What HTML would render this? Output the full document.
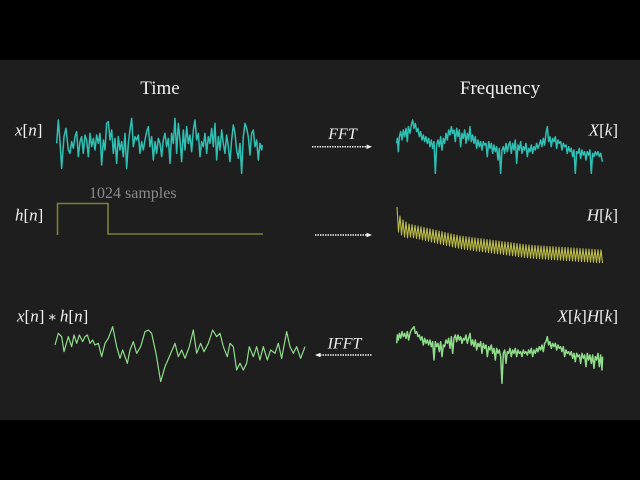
<!DOCTYPE html>
<html>
<head>
<meta charset="utf-8">
<style>
html,body{margin:0;padding:0;background:#000;}
svg{display:block;}
text{font-family:"Liberation Serif","DejaVu Serif",serif;fill:#f0f0f0;}
</style>
</head>
<body>
<svg width="640" height="480" viewBox="0 0 640 480" xmlns="http://www.w3.org/2000/svg">
<rect x="0" y="0" width="640" height="480" fill="#000"/>
<rect x="0" y="60" width="640" height="360" fill="#1e1e1e"/>

<!-- Titles -->
<text x="160" y="94" text-anchor="middle" font-size="19">Time</text>
<text x="500" y="94" text-anchor="middle" font-size="19">Frequency</text>

<!-- Left labels -->
<text x="15" y="135.5" font-size="17"><tspan font-style="italic">x</tspan>[<tspan font-style="italic">n</tspan>]</text>
<text x="15" y="220.5" font-size="17"><tspan font-style="italic">h</tspan>[<tspan font-style="italic">n</tspan>]</text>
<text x="17" y="321.5" font-size="17"><tspan font-style="italic">x</tspan>[<tspan font-style="italic">n</tspan>]<tspan font-family="DejaVu Serif" font-size="14" dx="3">∗</tspan><tspan dx="3" font-style="italic">h</tspan>[<tspan font-style="italic">n</tspan>]</text>

<!-- Right labels -->
<text x="618" y="135.5" font-size="17" text-anchor="end"><tspan font-style="italic">X</tspan>[<tspan font-style="italic">k</tspan>]</text>
<text x="618" y="220.5" font-size="17" text-anchor="end"><tspan font-style="italic">H</tspan>[<tspan font-style="italic">k</tspan>]</text>
<text x="618" y="321.5" font-size="17" text-anchor="end"><tspan font-style="italic">X</tspan>[<tspan font-style="italic">k</tspan>]<tspan font-style="italic">H</tspan>[<tspan font-style="italic">k</tspan>]</text>

<!-- 1024 samples -->
<text x="89" y="198" font-size="16" style="fill:#8a8a8a">1024 samples</text>

<!-- Arrows -->
<text x="342.5" y="139" font-size="16" text-anchor="middle" font-style="italic">FFT</text>
<line x1="312" y1="146.8" x2="367" y2="146.8" stroke="#f0f0f0" stroke-width="1.5" stroke-dasharray="1.5 1"/>
<polygon points="372,146.8 366.5,144.5 366.5,149.1" fill="#f0f0f0"/>

<line x1="315" y1="235" x2="367" y2="235" stroke="#f0f0f0" stroke-width="1.5" stroke-dasharray="1.5 1"/>
<polygon points="372,235 366.5,232.7 366.5,237.3" fill="#f0f0f0"/>

<text x="344.5" y="348.5" font-size="16" text-anchor="middle" font-style="italic">IFFT</text>
<line x1="320" y1="355" x2="372" y2="355" stroke="#f0f0f0" stroke-width="1.5" stroke-dasharray="1.5 1"/>
<polygon points="315,355 320.5,352.7 320.5,357.3" fill="#f0f0f0"/>

<!-- h[n] box -->
<polyline points="57.5,235 57.5,203.5 108,203.5 108,234 263,234" fill="none" stroke="#7f7f36" stroke-width="1.6"/>

<!-- x[n] -->
<g transform="translate(50,110) scale(0.3333)">
<polyline fill="none" stroke="#2fc0b4" stroke-width="4.5" stroke-linejoin="round" points="20,100 25,30 30,95 35,175 42,80 48,55 55,120 60,130 65,95 70,115 75,80 80,65 85,140 90,95 95,80 100,130 105,75 110,90 115,140 120,70 125,110 130,85 135,120 140,75 145,100 150,70 155,165 160,90 165,120 170,40 175,35 180,90 185,60 190,130 195,85 200,160 205,80 210,120 215,95 220,140 225,70 230,175 235,100 240,60 245,25 250,110 255,80 260,90 265,75 270,130 275,95 280,120 285,90 290,65 295,50 300,110 305,80 310,150 315,95 320,130 325,85 330,100 335,140 340,90 345,70 350,110 355,85 360,160 365,70 370,100 375,25 380,130 385,40 390,90 395,155 400,60 405,120 410,50 415,100 420,75 425,125 430,60 435,30 440,90 445,70 450,140 455,95 460,110 465,70 470,130 475,80 480,100 485,55 490,110 495,40 500,150 505,80 510,120 515,60 520,100 525,130 530,75 535,110 540,155 545,90 550,45 555,70 560,120 565,145 570,100 575,190 580,80 585,40 590,55 595,80 600,135 605,70 610,60 615,110 620,90 625,150 630,100 635,120 637,105"/>
</g>

<!-- X[k] -->
<g transform="translate(390,110) scale(0.3333)">
<polyline fill="none" stroke="#2fc0b4" stroke-width="4.5" stroke-linejoin="round" points="20,100 22,85 25,125 28,80 32,65 36,90 40,60 44,80 48,55 52,95 55,50 60,70 64,45 68,30 72,55 76,40 80,65 84,55 88,80 92,65 96,90 100,75 104,95 108,80 112,100 116,85 120,110 124,90 128,115 132,95 136,190 140,105 144,90 148,110 152,80 156,120 160,85 164,100 168,70 172,90 176,60 180,75 184,50 188,70 192,60 196,95 200,55 204,80 208,60 212,110 216,70 220,85 224,60 228,100 232,70 236,90 240,50 244,95 248,75 252,100 256,80 260,115 264,90 268,110 272,95 276,120 280,95 284,105 288,100 292,140 296,95 300,115 304,100 308,130 312,105 316,125 320,110 324,150 328,115 332,190 336,120 340,110 344,130 348,100 352,125 356,105 360,95 364,130 368,100 372,120 376,90 380,160 384,105 388,120 392,95 396,130 400,110 404,120 408,100 412,140 416,115 420,125 424,105 428,130 432,110 436,120 440,100 444,115 448,105 452,90 456,110 460,85 464,105 468,70 472,50 476,95 480,80 484,110 488,85 492,95 496,80 500,115 504,90 508,100 512,95 516,120 520,100 524,110 528,105 532,130 536,110 540,125 544,115 548,140 552,120 556,190 560,125 564,130 568,115 572,145 576,120 580,135 584,125 588,150 592,125 596,135 600,120 604,190 608,130 612,140 616,125 620,135 624,125 628,140 632,130 636,150 638,155"/>
</g>

<!-- H[k] -->
<path fill="none" stroke="#bcbc46" stroke-width="1.1" stroke-linejoin="round" d="M397,207 L398.5,232 L400,216 L401.5,235 L403,220 L404.5,237 L406,222 L407.5,238 L409,224
l1.5,13l1.5,-12.3l1.5,13l1.5,-12.3l1.5,13l1.5,-12.3l1.5,13l1.5,-12.3l1.5,13l1.5,-12.3
l1.5,13l1.5,-12.3l1.5,13l1.5,-12.3l1.5,13l1.5,-12.3l1.5,13l1.5,-12.3l1.5,13l1.5,-12.3
l1.5,13l1.5,-12.3l1.5,13l1.5,-12.3l1.5,13l1.5,-12.3l1.5,13l1.5,-12.3l1.5,13l1.5,-12.3
l1.5,13l1.5,-12.3l1.5,13l1.5,-12.3
l1.5,13l1.5,-12.6l1.5,13l1.5,-12.6l1.5,13l1.5,-12.6l1.5,13l1.5,-12.6l1.5,13l1.5,-12.6
l1.5,13l1.5,-12.6l1.5,13l1.5,-12.6l1.5,13l1.5,-12.6l1.5,13l1.5,-12.6l1.5,13l1.5,-12.6
l1.5,13l1.5,-12.6l1.5,13l1.5,-12.6l1.5,13l1.5,-12.6l1.5,13l1.5,-12.6l1.5,13l1.5,-12.6
l1.5,13l1.5,-12.6l1.5,13l1.5,-12.6l1.5,13l1.5,-12.6l1.5,13l1.5,-12.6l1.5,13l1.5,-12.6
l1.5,13l1.5,-12.6l1.5,13l1.5,-12.6l1.5,13l1.5,-12.6
l1.5,13l1.5,-12.8l1.5,13l1.5,-12.8l1.5,13l1.5,-12.8l1.5,13l1.5,-12.8l1.5,13l1.5,-12.8
l1.5,13l1.5,-12.8l1.5,13l1.5,-12.8l1.5,13l1.5,-12.8l1.5,13l1.5,-12.8l1.5,13l1.5,-12.8
l1.5,13l1.5,-12.8l1.5,13l1.5,-12.8l1.5,13l1.5,-12.8l1.5,13l1.5,-12.8l1.5,13l1.5,-12.8
l1.5,13l1.5,-12.8l1.5,13l1.5,-12.8l1.5,13l1.5,-12.8l1.5,13l1.5,-12.8l1.5,13l1.5,-12.8
l1.5,13l1.5,-12.8l1.5,13l1.5,-12.8l1.5,13l1.5,-12.8l1.5,13l1.5,-12.8
l1.5,13"/>

<!-- x[n]*h[n] -->
<g transform="translate(50,320) scale(0.3333)">
<polyline fill="none" stroke="#8fdc8a" stroke-width="3.6" stroke-linejoin="round" points="15,75 25,40 35,50 42,95 55,50 65,80 72,45 80,70 88,45 98,65 105,50 112,45 120,70 128,60 135,75 145,70 155,110 165,70 175,55 188,20 200,80 210,115 218,90 225,110 232,130 240,90 250,65 260,100 272,80 285,35 295,30 305,40 318,100 332,185 345,140 358,110 375,70 385,110 395,90 405,115 418,80 430,30 440,100 452,70 462,95 475,70 488,30 500,50 510,40 520,80 532,110 540,70 550,80 560,150 570,130 580,150 590,130 598,80 610,110 620,80 630,120 640,80 652,120 662,90 675,100 685,70 695,115 710,35 720,80 730,100 740,80 752,115 765,80"/>
</g>

<!-- X[k]H[k] -->
<g transform="translate(390,320) scale(0.3333)">
<polyline fill="none" stroke="#8fdc8a" stroke-width="4.5" stroke-linejoin="round" points="20,70 22,45 25,60 28,40 32,55 36,35 40,50 44,40 48,55 52,35 56,60 60,40 64,30 68,25 72,20 76,40 80,35 84,50 88,45 92,60 96,50 100,75 104,55 108,70 112,60 116,75 120,60 124,80 128,65 132,120 136,65 140,80 144,70 148,95 152,65 156,110 160,75 164,80 168,60 172,70 176,55 180,85 184,50 188,100 192,55 196,45 200,65 204,45 208,60 212,50 216,70 220,55 224,60 228,45 232,70 236,55 240,40 244,75 248,60 252,80 256,60 260,90 264,70 268,80 272,65 276,100 280,70 284,85 288,75 292,110 296,80 300,90 304,75 308,100 312,85 316,120 320,85 324,100 328,90 332,110 336,190 340,100 344,90 348,130 352,95 356,100 360,85 364,110 368,90 372,100 376,85 380,110 384,90 388,100 392,95 396,110 400,90 404,100 408,95 412,105 416,90 420,100 424,85 428,110 432,90 436,100 440,85 444,95 448,80 452,90 456,75 460,95 464,70 468,65 472,50 476,75 480,65 484,85 488,70 492,80 496,70 500,90 504,75 508,85 512,80 516,95 520,80 524,110 528,90 532,100 536,95 540,105 544,95 548,115 552,100 556,125 560,100 564,110 568,105 572,130 576,100 580,115 584,105 588,140 592,100 596,120 600,105 604,130 608,105 612,145 616,110 620,120 624,100 628,140 632,105 636,150 638,110"/>
</g>
</svg>
</body>
</html>
